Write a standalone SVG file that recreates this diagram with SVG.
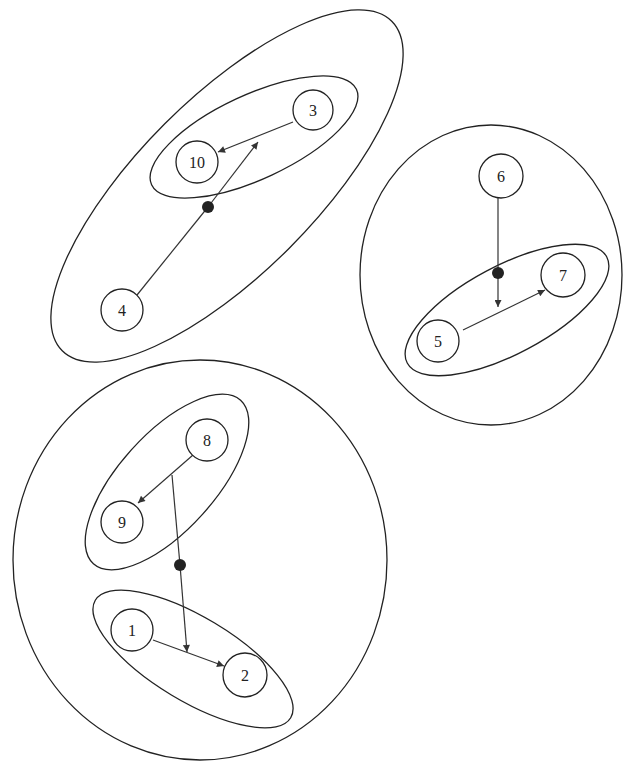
<svg xmlns="http://www.w3.org/2000/svg" width="624" height="764" viewBox="0 0 624 764">
<style>
.g{fill:none;stroke:#222;stroke-width:1.3}
.n circle{fill:#fff;stroke:#222;stroke-width:1.3}
.n text{font-family:"Liberation Serif","Times New Roman",serif;font-size:16px;fill:#222;text-anchor:middle;dominant-baseline:central}
.e{fill:none;stroke:#333;stroke-width:1.2}
.d{fill:#222}
</style>
<defs>
<marker id="ah" viewBox="0 0 10 10" refX="10" refY="5" markerWidth="9" markerHeight="7" markerUnits="userSpaceOnUse" orient="auto">
<path d="M0,0 L10,5 L0,10 z" fill="#333"/>
</marker>
</defs>
<rect width="624" height="764" fill="#fff"/>
<g id="groups">
<ellipse class="g" cx="227" cy="186" rx="233" ry="88" transform="rotate(-45 227 186)"/>
<ellipse class="g" cx="254" cy="137" rx="113" ry="42" transform="rotate(-25 254 137)"/>
<ellipse class="g" cx="491" cy="275" rx="131" ry="150"/>
<ellipse class="g" cx="507" cy="310" rx="113" ry="44" transform="rotate(-28 507 310)"/>
<ellipse class="g" cx="200" cy="560" rx="187" ry="200"/>
<ellipse class="g" cx="167" cy="482" rx="110" ry="48" transform="rotate(-48 167 482)"/>
<ellipse class="g" cx="193" cy="659" rx="114" ry="42" transform="rotate(31 193 659)"/>
</g>
<g id="connectors">
<line class="e" x1="293" y1="122" x2="218" y2="152" marker-end="url(#ah)"/>
<line class="e" x1="137" y1="295" x2="208" y2="207"/>
<line class="e" x1="208" y1="207" x2="258" y2="142" marker-end="url(#ah)"/>
<circle class="d" cx="208" cy="207" r="6"/>
<line class="e" x1="498" y1="198" x2="498" y2="273"/>
<line class="e" x1="498" y1="273" x2="498" y2="307" marker-end="url(#ah)"/>
<circle class="d" cx="498" cy="273" r="6"/>
<line class="e" x1="463" y1="330" x2="545" y2="290" marker-end="url(#ah)"/>
<line class="e" x1="193" y1="455" x2="138" y2="503" marker-end="url(#ah)"/>
<line class="e" x1="172" y1="475" x2="180" y2="565"/>
<line class="e" x1="180" y1="565" x2="187" y2="652" marker-end="url(#ah)"/>
<circle class="d" cx="180" cy="565" r="6"/>
<line class="e" x1="153" y1="640" x2="224" y2="666" marker-end="url(#ah)"/>
</g>
<g id="node3" class="n"><circle cx="313" cy="110" r="20"/><text x="313" y="110">3</text></g>
<g id="node10" class="n"><circle cx="197" cy="162" r="21"/><text x="197" y="162">10</text></g>
<g id="node4" class="n"><circle cx="122" cy="310" r="21"/><text x="122" y="310">4</text></g>
<g id="node6" class="n"><circle cx="501" cy="176" r="22"/><text x="501" y="176">6</text></g>
<g id="node7" class="n"><circle cx="563" cy="275" r="22"/><text x="563" y="275">7</text></g>
<g id="node5" class="n"><circle cx="438" cy="341" r="21"/><text x="438" y="341">5</text></g>
<g id="node8" class="n"><circle cx="207" cy="440" r="21"/><text x="207" y="440">8</text></g>
<g id="node9" class="n"><circle cx="122" cy="522" r="21"/><text x="122" y="522">9</text></g>
<g id="node1" class="n"><circle cx="132" cy="630" r="21"/><text x="132" y="630">1</text></g>
<g id="node2" class="n"><circle cx="245" cy="675" r="22"/><text x="245" y="675">2</text></g>
</svg>
